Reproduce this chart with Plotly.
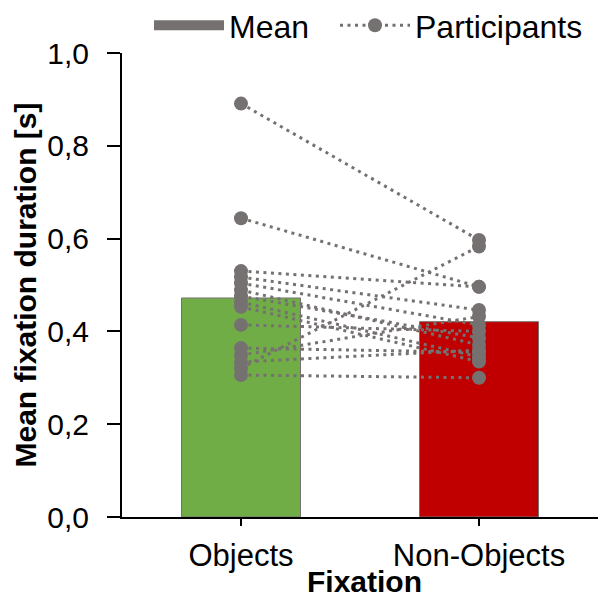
import plotly.graph_objects as go

# Conditions and group means (s)
categories = ["Objects", "Non-Objects"]
mean_duration = [0.472, 0.421]

# Per-participant mean fixation durations (s)
objects_vals = [0.891, 0.644, 0.530, 0.517, 0.504, 0.489, 0.476, 0.463,
                0.453, 0.414, 0.364, 0.349, 0.334, 0.321, 0.306]
non_objects_vals = [0.597, 0.496, 0.496, 0.446, 0.414, 0.371, 0.386, 0.345,
                    0.335, 0.400, 0.355, 0.432, 0.360, 0.583, 0.300]

bar_colors = ["#70AD47", "#C00000"]
gray = "#767171"
font_family = "Liberation Sans, Arial, sans-serif"

fig = go.Figure()

fig.add_trace(go.Bar(
    x=categories,
    y=mean_duration,
    width=0.5,
    marker=dict(color=bar_colors, line=dict(color=gray, width=1)),
    name="Mean",
    showlegend=False,
))

# Legend entry for the bars: a wide gray swatch
fig.add_trace(go.Scatter(
    x=[None], y=[None], name="Mean", mode="lines",
    line=dict(color=gray, width=16),
    showlegend=True, legend="legend",
))

for i, (a, b) in enumerate(zip(objects_vals, non_objects_vals)):
    fig.add_trace(go.Scatter(
        x=categories,
        y=[a, b],
        mode="lines+markers",
        line=dict(color=gray, width=3, dash="3px,4.5px"),
        marker=dict(color=gray, size=14),
        name="Participants",
        legend="legend2",
        showlegend=(i == 0),
    ))

legend_style = dict(
    orientation="h", xanchor="left", y=1.0, yanchor="bottom",
    font=dict(size=32), itemwidth=70, bgcolor="rgba(0,0,0,0)",
)

fig.update_layout(
    width=598, height=599,
    margin=dict(l=122, r=0, t=53, b=82, autoexpand=False),
    plot_bgcolor="white", paper_bgcolor="white",
    separators=",.",
    font=dict(family=font_family, size=30, color="black"),
    legend=dict(x=0.0567, **legend_style),
    legend2=dict(x=0.4475, **legend_style),
    xaxis=dict(
        range=[-0.5, 1.5],
        showline=True, linecolor="black", linewidth=2,
        ticks="outside", ticklen=7, tickwidth=2, tickcolor="black",
        tickfont=dict(size=31), ticklabelstandoff=3,
        showgrid=False,
    ),
    yaxis=dict(
        range=[0, 1.0], dtick=0.2, tick0=0, tickformat=".1f",
        showline=True, linecolor="black", linewidth=2,
        ticks="outside", ticklen=13, tickwidth=2, tickcolor="black",
        tickfont=dict(size=30), ticklabelstandoff=12,
        title=dict(text="<b>Mean fixation duration [s]</b>", font=dict(size=30), standoff=2),
        showgrid=False, zeroline=False,
    ),
    annotations=[dict(
        text="<b>Fixation</b>", xref="paper", yref="paper",
        x=0.51, y=0, xanchor="center", yanchor="middle", yshift=-64,
        showarrow=False, font=dict(size=30),
    )],
)

fig.write_html("out.html")
